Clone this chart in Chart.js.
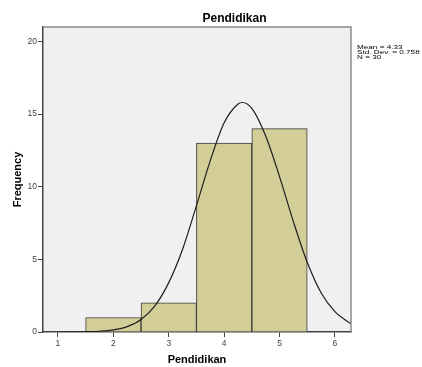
<!DOCTYPE html>
<html>
<head>
<meta charset="utf-8">
<script src="https://cdn.jsdelivr.net/npm/chart.js@4/dist/chart.umd.min.js"></script>
<style>
  html, body { margin: 0; padding: 0; background: #fff; }
  canvas { display: block; }
</style>
</head>
<body>
<canvas id="hist" width="422" height="367"></canvas>
<script>
// histogram bins (centre of each bin) and counts
let binCenters = [2, 3, 4, 5];
let counts = [1, 2, 13, 14];

// normal curve
let curveX = [1, 1.25, 1.5, 1.75, 2, 2.25, 2.5, 2.75, 3, 3.25, 3.5, 3.75, 4, 4.25, 4.33, 4.5, 4.75, 5, 5.25, 5.5, 5.75, 6, 6.29];
let curveY = [0, 0, 0.02, 0.05, 0.14, 0.37, 0.86, 1.8, 3.4, 5.7, 8.7, 11.8, 14.4, 15.7, 15.8, 15.4, 13.5, 10.7, 7.6, 4.8, 2.7, 1.4, 0.56];

let xTicks = [1, 2, 3, 4, 5, 6];
let yTicks = [0, 5, 10, 15, 20];

let titleText = "Pendidikan";
let xTitle = "Pendidikan";
let yTitle = "Frequency";
let statLines = ["Mean = 4.33", "Std. Dev. = 0.758", "N = 30"];

const FONT = "'Liberation Sans', Arial, sans-serif";

let plotBg = {
  id: "plotBg",
  beforeDraw(chart) {
    let a = chart.chartArea, ctx = chart.ctx;
    ctx.save();
    ctx.fillStyle = "#f0f0f0";
    ctx.fillRect(a.left, a.top, a.right - a.left, a.bottom - a.top);
    ctx.restore();
  },
  afterDraw(chart) {
    let a = chart.chartArea, ctx = chart.ctx;
    ctx.save();
    // top and right frame
    ctx.strokeStyle = "#8c8c8c";
    ctx.lineWidth = 1.5;
    ctx.beginPath();
    ctx.moveTo(a.left, a.top);
    ctx.lineTo(a.right, a.top);
    ctx.lineTo(a.right, a.bottom);
    ctx.stroke();

    // title
    ctx.fillStyle = "#000";
    ctx.font = "bold 12px " + FONT;
    ctx.textAlign = "center";
    ctx.textBaseline = "alphabetic";
    ctx.fillText(titleText, 234.5, 22);

    // stats text, squashed like the original
    ctx.font = "8px " + FONT;
    ctx.textAlign = "left";
    let base = [48.5, 53.7, 58.9];
    statLines.forEach((t, i) => {
      ctx.save();
      ctx.translate(357, base[i]);
      ctx.scale(1.02, 0.74);
      ctx.fillText(t, 0, 0);
      ctx.restore();
    });
    ctx.restore();
  }
};

new Chart(document.getElementById("hist"), {
  type: "bar",
  data: {
    datasets: [
      {
        type: "line",
        data: curveX.map((x, i) => ({ x: x, y: curveY[i] })),
        borderColor: "#1e1e1e",
        borderWidth: 1.2,
        pointRadius: 0,
        cubicInterpolationMode: "monotone",
        fill: false,
        order: 0
      },
      {
        type: "bar",
        data: binCenters.map((x, i) => ({ x: x, y: counts[i] })),
        backgroundColor: "#d3ce98",
        borderColor: "#3a3a3a",
        borderWidth: 1,
        barPercentage: 1,
        categoryPercentage: 1,
        order: 1
      }
    ]
  },
  options: {
    responsive: false,
    animation: false,
    layout: { padding: { left: 0, top: 27, right: 71, bottom: 0 } },
    plugins: {
      legend: { display: false },
      tooltip: { enabled: false },
      title: { display: false }
    },
    scales: {
      x: {
        type: "linear",
        offset: false,
        min: 0.73,
        max: 6.29,
        afterFit(s) { s.height = 35; },
        afterBuildTicks(s) { s.ticks = xTicks.map(v => ({ value: v })); },
        ticks: {
          font: { family: FONT, size: 8.5 },
          color: "#444",
          padding: 2,
          maxRotation: 0
        },
        grid: { offset: false, drawOnChartArea: false, drawTicks: true, tickLength: 5, color: "#444" },
        border: { display: true, color: "#444", width: 1.5 },
        title: {
          display: true,
          text: xTitle,
          color: "#000",
          font: { family: FONT, size: 11, weight: "bold" },
          padding: { top: 0, bottom: 0 }
        }
      },
      y: {
        min: 0,
        max: 21,
        afterFit(s) { s.width = 43; },
        afterBuildTicks(s) { s.ticks = yTicks.map(v => ({ value: v })); },
        ticks: {
          font: { family: FONT, size: 8.5 },
          color: "#444",
          padding: 1
        },
        grid: { drawOnChartArea: false, drawTicks: true, tickLength: 5, color: "#444" },
        border: { display: true, color: "#444", width: 1.5 },
        title: {
          display: true,
          text: yTitle,
          color: "#000",
          font: { family: FONT, size: 11, weight: "bold" },
          padding: { top: 11, bottom: 0 }
        }
      }
    }
  },
  plugins: [plotBg]
});
</script>
</body>
</html>
